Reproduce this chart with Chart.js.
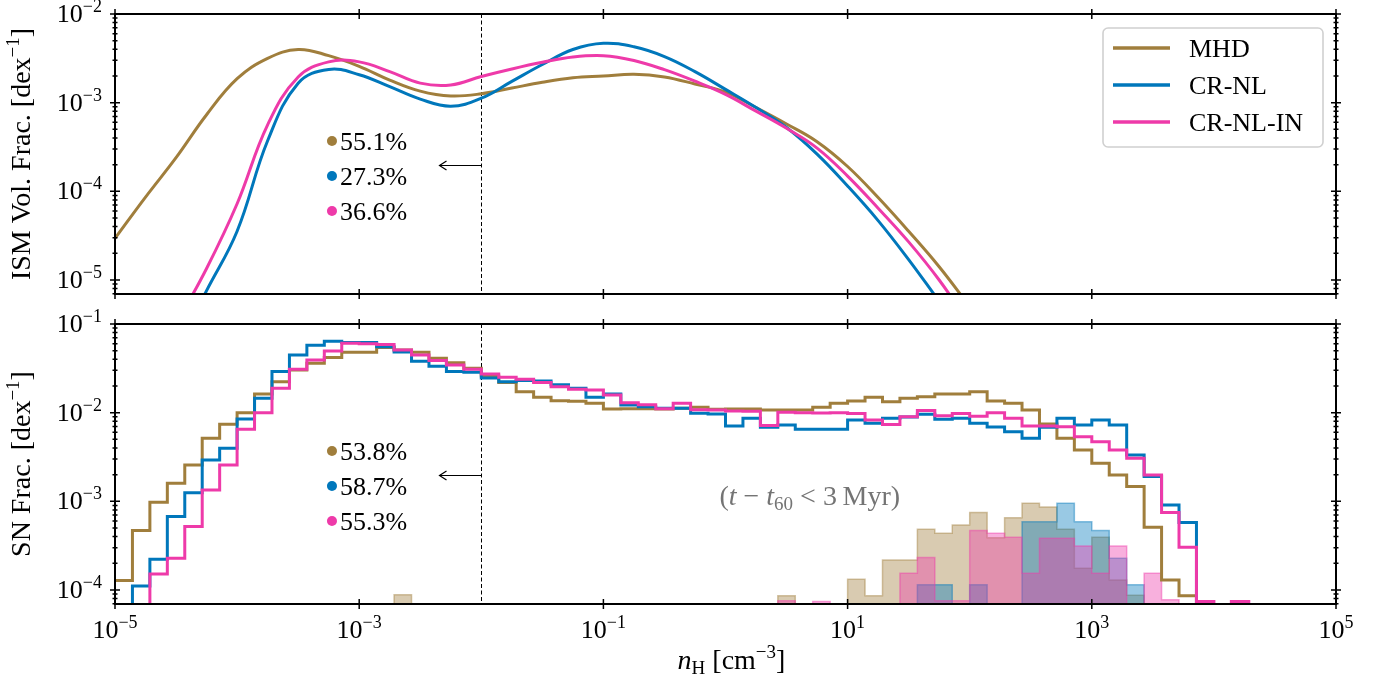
<!DOCTYPE html>
<html>
<head>
<meta charset="utf-8">
<title>ISM and SN density distributions</title>
<script src="https://cdn.jsdelivr.net/npm/chart.js@4.4.1/dist/chart.umd.min.js"></script>
<style>
  html, body { margin: 0; padding: 0; background: #fff; }
  canvas { position: absolute; left: 0; }
</style>
</head>
<body>
<canvas id="volChart" style="top:0" width="1380" height="304"></canvas>
<canvas id="snChart" style="top:304px" width="1380" height="379"></canvas>
<script>
var FONT = '"Liberation Serif", "DejaVu Serif", serif';

var simNames = ['MHD', 'CR-NL', 'CR-NL-IN'];
var simColors = ['#a07e3c', '#0077bb', '#ee3aa9'];
var simEdges = ['rgba(160,126,60,0.45)', 'rgba(0,119,187,0.45)', 'rgba(238,58,169,0.45)'];
var simFills = ['rgba(160,126,60,0.4)', 'rgba(0,119,187,0.4)', 'rgba(238,58,169,0.4)'];

// tick positions, as powers of ten
var xTickExp = [-5, -3, -1, 1, 3, 5];
var volTickExp = [-5, -4, -3, -2];
var snTickExp = [-4, -3, -2, -1];

// the dashed cut and the fractions left of it
var cutDens = 1e-2;
var volPct = ['55.1%', '27.3%', '36.6%'];
var snPct = ['53.8%', '58.7%', '55.3%'];

// top panel: log10 n_H samples and log10 volume fraction per dex
var volDens = [-5, -4.75, -4.5, -4.25, -4, -3.75, -3.5, -3.25, -3, -2.75, -2.5, -2.25, -2, -1.75, -1.5,
               -1.25, -1, -0.75, -0.5, -0.25, 0, 0.25, 0.5, 0.75, 1, 1.25, 1.5, 1.75, 2, 2.25];
var volMHD = [-4.53, -4.065, -3.62, -3.136, -2.73, -2.50, -2.40, -2.47, -2.59, -2.745, -2.87, -2.925, -2.90, -2.835, -2.77,
              -2.72, -2.70, -2.68, -2.71, -2.79, -2.88, -3.055, -3.24, -3.44, -3.72, -4.07, -4.45, -4.85, -5.3, -5.75];
var volCRNL = [null, null, -5.8, -5.12, -4.45, -3.43, -2.78, -2.625, -2.685, -2.82, -2.96, -3.04, -2.95, -2.76, -2.57,
               -2.40, -2.33, -2.37, -2.48, -2.65, -2.85, -3.055, -3.28, -3.58, -3.94, -4.33, -4.77, -5.24, -5.7, null];
var volCRNLIN = [null, null, -5.5, -4.87, -4.14, -3.25, -2.71, -2.54, -2.54, -2.65, -2.78, -2.80, -2.705, -2.62, -2.545,
                 -2.485, -2.47, -2.524, -2.628, -2.758, -2.907, -3.096, -3.289, -3.512, -3.828, -4.19, -4.57, -5.0, -5.5, null];

// bottom panel: 70 bins of 1/7 dex from 1e-5 to 1e5, log10 SN fraction per dex (null = empty bin)
var binStartDex = -5;
var binsPerDex = 7;
var snMHD = [-3.894, -3.330, -3.010, -2.796, -2.590, -2.289, -2.131, -2.0, -1.789, -1.650,
             -1.519, -1.443, -1.378, -1.320, -1.320, -1.265, -1.293, -1.319, -1.387, -1.436,
             -1.50, -1.586, -1.661, -1.763, -1.827, -1.866, -1.87, -1.894, -1.958, -1.955,
             -1.955, -1.958, -1.95, -1.94, -1.962, -1.96, -1.96, -1.97, -1.97, -1.97,
             -1.94, -1.894, -1.868, -1.827, -1.876, -1.838, -1.82, -1.789, -1.789, -1.763,
             -1.868, -1.894, -1.97, -2.127, -2.289, -2.42, -2.571, -2.702, -2.834, -3.292,
             -3.886, -4.066, null, null, null, null, null, null, null, null];
var snCRNL = [null, -3.954, -3.653, -3.172, -2.902, -2.533, -2.402, -2.071, -1.838, -1.537,
              -1.349, -1.24, -1.195, -1.208, -1.21, -1.256, -1.315, -1.42, -1.477, -1.537,
              -1.545, -1.61, -1.65, -1.638, -1.642, -1.684, -1.725, -1.827, -1.79, -1.913,
              -1.932, -1.951, -1.951, -2.007, -2.015, -2.15, -2.063, -2.165, -2.139, -2.188,
              -2.188, -2.188, -2.082, -2.12, -2.063, -2.05, -2.019, -2.075, -2.063, -2.12,
              -2.162, -2.214, -2.289, -2.165, -2.063, -2.139, -2.082, -2.139, -2.477, -2.721,
              -3.041, -3.24, null, null, null, null, null, null, null, null];
var snCRNLIN = [null, null, -3.819, -3.642, -3.285, -2.871, -2.59, -2.188, -2.0, -1.725,
                -1.511, -1.406, -1.305, -1.218, -1.222, -1.232, -1.293, -1.35, -1.413, -1.462,
                -1.511, -1.564, -1.601, -1.624, -1.661, -1.707, -1.735, -1.744, -1.80, -1.887,
                -1.91, -1.955, -1.894, -1.968, -1.97, -1.98, -1.985, -2.145, -1.995, -2.0,
                -2.004, -2.0, -2.01, -2.082, -2.133, -2.045, -1.975, -2.035, -2.01, -2.04,
                -2.0, -2.063, -2.15, -2.15, -2.158, -2.271, -2.327, -2.42, -2.514, -2.702,
                -3.127, -3.518, -4.13, null, -4.13, null, null, null, null, null];

// recent SNe (t - t60 < 3 Myr): occupied bins and their log10 values
var recentMHDBins = [16, 38, 42, 43, 44, 45, 46, 47, 48, 49, 50, 51, 52, 53, 54, 55, 56, 57, 58];
var recentMHD = [-4.055, -4.066, -3.879, -4.066, -3.661, -3.661, -3.315, -3.36, -3.266, -3.125,
                 -3.41, -3.185, -3.022, -3.064, -3.315, -3.755, -3.405, -3.886, -4.06];
var recentCRNLBins = [46, 47, 49, 52, 53, 54, 55, 56, 57, 58];
var recentCRNL = [-3.942, -3.942, -3.942, -3.229, -3.229, -3.022, -3.229, -3.33, -3.642, -3.942];
var recentCRNLINBins = [38, 40, 45, 46, 47, 48, 49, 50, 51, 52, 53, 54, 55, 56, 57, 59, 60];
var recentCRNLIN = [-4.12, -4.13, -3.811, -3.634, -4.12, -4.12, -3.33, -3.36, -3.405, -3.811,
                    -3.416, -3.416, -3.505, -3.811, -3.505, -3.811, -4.11];

var FLOOR = 1e-9; // empty bins fall off the bottom of the log axis

function F(px, style) { return (style ? style + ' ' : '') + px + 'px ' + FONT; }

function runsWidth(ctx, runs) {
  var w = 0;
  runs.forEach(function (r) { ctx.font = r.font; w += ctx.measureText(r.t).width; });
  return w;
}
function drawRuns(ctx, runs, x, y, align) {
  var w = runsWidth(ctx, runs);
  var cx = align === 'center' ? x - w / 2 : align === 'right' ? x - w : x;
  ctx.textAlign = 'left';
  ctx.textBaseline = 'alphabetic';
  runs.forEach(function (r) {
    ctx.font = r.font;
    ctx.fillText(r.t, cx, y + (r.dy || 0));
    cx += ctx.measureText(r.t).width;
  });
}
function drawPow(ctx, e, x, yMid, align) {
  var sup = (e < 0 ? '\u2212' : '') + Math.abs(e);
  drawRuns(ctx, [{t: '10', font: F(26)}, {t: sup, font: F(18), dy: -10}], x, yMid + 8, align);
}

function stepPoints(vals) {
  var pts = [];
  for (var k = 0; k <= vals.length; k++) {
    var v = vals[Math.min(k, vals.length - 1)];
    pts.push({x: Math.pow(10, binStartDex + k / binsPerDex), y: v == null ? FLOOR : Math.pow(10, v)});
  }
  return pts;
}
function sparseBins(bins, vals) {
  var out = snMHD.map(function () { return null; });
  bins.forEach(function (b, i) { out[b] = vals[i]; });
  return out;
}

var decor = {
  id: 'decor',
  beforeDatasetsDraw: function (chart) {
    var ctx = chart.ctx, a = chart.chartArea, x = chart.scales.x;
    var xc = Math.round(x.getPixelForValue(cutDens)) + 0.5;
    ctx.save();
    ctx.strokeStyle = '#000';
    ctx.lineWidth = 1;
    ctx.setLineDash([4, 2.5]);
    ctx.beginPath(); ctx.moveTo(xc, a.top); ctx.lineTo(xc, a.bottom); ctx.stroke();
    ctx.restore();
  },
  afterDraw: function (chart, args, o) {
    var ctx = chart.ctx, a = chart.chartArea, x = chart.scales.x, y = chart.scales.y;
    ctx.save();

    // arrow pointing to the low density side
    var xc = Math.round(x.getPixelForValue(cutDens)) + 0.5;
    var ya = Math.round(a.top + 0.539 * a.height) + 0.5;
    ctx.strokeStyle = '#000';
    ctx.lineWidth = 1.2;
    ctx.beginPath();
    ctx.moveTo(xc, ya); ctx.lineTo(xc - 42, ya);
    ctx.moveTo(xc - 35, ya - 4.5); ctx.lineTo(xc - 42, ya); ctx.lineTo(xc - 35, ya + 4.5);
    ctx.stroke();

    // percentages
    var dx = a.left + 0.1777 * a.width;
    o.pct.forEach(function (p, i) {
      var yy = a.top + (0.4536 + 0.125 * i) * a.height;
      ctx.fillStyle = simColors[i];
      ctx.beginPath(); ctx.arc(dx, yy, 5, 0, Math.PI * 2); ctx.fill();
      ctx.fillStyle = '#000';
      drawRuns(ctx, [{t: p, font: F(26)}], dx + 8, yy + 9, 'left');
    });

    // frame
    ctx.lineWidth = 2;
    ctx.strokeStyle = '#000';
    ctx.strokeRect(a.left, a.top, a.width, a.height);

    // ticks, in and out
    ctx.lineWidth = 1.5;
    ctx.beginPath();
    xTickExp.forEach(function (e) {
      var px = x.getPixelForValue(Math.pow(10, e));
      ctx.moveTo(px, a.top - 5); ctx.lineTo(px, a.top + 5);
      ctx.moveTo(px, a.bottom - 5); ctx.lineTo(px, a.bottom + 5);
    });
    for (var e = -7; e <= 0; e++) {
      for (var m = 1; m <= 9; m++) {
        var v = m * Math.pow(10, e);
        if (v < y.min * 0.999 || v > y.max * 1.001) continue;
        var py = y.getPixelForValue(v), h = m === 1 ? 5 : 2.5;
        ctx.moveTo(a.left - h, py); ctx.lineTo(a.left + h, py);
        ctx.moveTo(a.right - h, py); ctx.lineTo(a.right + h, py);
      }
    }
    ctx.stroke();

    // tick labels
    ctx.fillStyle = '#000';
    o.yTicks.forEach(function (e) {
      drawPow(ctx, e, a.left - 13, y.getPixelForValue(Math.pow(10, e)), 'right');
    });
    if (o.xLabels) {
      xTickExp.forEach(function (e) {
        drawPow(ctx, e, x.getPixelForValue(Math.pow(10, e)), a.bottom + 26, 'center');
      });
      drawRuns(ctx, [{t: 'n', font: F(28, 'italic')}, {t: 'H', font: F(19), dy: 5},
                     {t: ' [cm', font: F(28)}, {t: '\u22123', font: F(19), dy: -11}, {t: ']', font: F(28)}],
               (a.left + a.right) / 2 + 6, a.bottom + 65, 'center');
    }

    // y title
    ctx.save();
    ctx.translate(30, (a.top + a.bottom) / 2);
    ctx.rotate(-Math.PI / 2);
    drawRuns(ctx, [{t: o.title + ' [dex', font: F(28)}, {t: '\u22121', font: F(19), dy: -11}, {t: ']', font: F(28)}],
             0, 0, 'center');
    ctx.restore();

    // selection note
    if (o.note) {
      ctx.fillStyle = '#747474';
      drawRuns(ctx, [{t: '(', font: F(28)}, {t: 't', font: F(28, 'italic')}, {t: ' \u2212 ', font: F(28)},
                     {t: 't', font: F(28, 'italic')}, {t: '60', font: F(19), dy: 5},
                     {t: ' < 3\u2009Myr)', font: F(28)}],
               a.left + 0.569 * a.width, a.top + 0.621 * a.height + 7, 'center');
    }

    // legend
    if (o.legend) {
      var lx = a.right - 233, ly = a.top + 14, lw = 220, lh = 119;
      ctx.fillStyle = 'rgba(255,255,255,0.85)';
      ctx.strokeStyle = '#d0d0d0';
      ctx.lineWidth = 1.6;
      ctx.beginPath();
      ctx.roundRect(lx, ly, lw, lh, 5);
      ctx.fill(); ctx.stroke();
      chart.data.datasets.forEach(function (ds, i) {
        var yy = ly + 20 + i * 37;
        ctx.strokeStyle = ds.borderColor;
        ctx.lineWidth = 3.5;
        ctx.beginPath(); ctx.moveTo(lx + 10, yy); ctx.lineTo(lx + 67, yy); ctx.stroke();
        ctx.fillStyle = '#000';
        drawRuns(ctx, [{t: ds.label, font: F(26)}], lx + 86, yy + 9, 'left');
      });
    }
    ctx.restore();
  }
};

function logScale(min, max, extra) {
  var s = {
    type: 'logarithmic', min: min, max: max,
    grid: {display: false}, border: {display: false}, ticks: {display: false}
  };
  return Object.assign(s, extra);
}

var volSeries = [volMHD, volCRNL, volCRNLIN];
var volChart = new Chart(document.getElementById('volChart'), {
  type: 'line',
  data: {
    datasets: simNames.map(function (name, i) {
      return {
        label: name,
        data: volDens.map(function (d, j) {
          var v = volSeries[i][j];
          return {x: Math.pow(10, d), y: v == null ? null : Math.pow(10, v)};
        }),
        borderColor: simColors[i],
        borderWidth: 3,
        pointRadius: 0,
        tension: 0.4,
        fill: false,
        order: 3 - i
      };
    })
  },
  options: {
    responsive: false, animation: false, events: [],
    layout: {padding: {left: 0, right: 44, top: 14, bottom: 0}},
    plugins: {
      legend: {display: false}, tooltip: {enabled: false},
      decor: {pct: volPct, yTicks: volTickExp, title: 'ISM Vol. Frac.', legend: true, xLabels: false}
    },
    scales: {
      x: logScale(1e-5, 1e5, {afterFit: function (s) { s.height = 10; }}),
      y: logScale(6.95e-6, 1e-2, {afterFit: function (s) { s.width = 115; }})
    }
  },
  plugins: [decor]
});

var snSeries = [snMHD, snCRNL, snCRNLIN];
var recentSeries = [sparseBins(recentMHDBins, recentMHD), sparseBins(recentCRNLBins, recentCRNL),
                    sparseBins(recentCRNLINBins, recentCRNLIN)];
var snDatasets = simNames.map(function (name, i) {
  return {
    label: name, data: stepPoints(snSeries[i]), stepped: 'before',
    borderColor: simColors[i], borderWidth: 3, pointRadius: 0, fill: false, order: 3 - i
  };
}).concat(simNames.map(function (name, i) {
  return {
    label: name + ' recent', data: stepPoints(recentSeries[i]), stepped: 'before',
    borderColor: simEdges[i], borderWidth: 1.5, backgroundColor: simFills[i],
    pointRadius: 0, fill: 'start', order: 6 - i
  };
}));

var snChart = new Chart(document.getElementById('snChart'), {
  type: 'line',
  data: {datasets: snDatasets},
  options: {
    responsive: false, animation: false, events: [],
    layout: {padding: {left: 0, right: 44, top: 20, bottom: 0}},
    plugins: {
      legend: {display: false}, tooltip: {enabled: false},
      decor: {pct: snPct, yTicks: snTickExp, title: 'SN Frac.', legend: false, xLabels: true, note: true}
    },
    scales: {
      x: logScale(1e-5, 1e5, {afterFit: function (s) { s.height = 79; }}),
      y: logScale(6.95e-5, 1e-1, {afterFit: function (s) { s.width = 115; }})
    }
  },
  plugins: [decor]
});
</script>
</body>
</html>
